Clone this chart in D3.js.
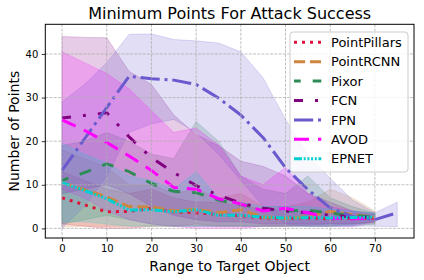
<!DOCTYPE html>
<html><head><meta charset="utf-8">
<script src="https://cdn.jsdelivr.net/npm/d3@7"></script>
<style>body{margin:0;background:#fff;}svg{display:block;font-family:"DejaVu Sans",sans-serif;}</style>
</head><body><svg id="c" width="424" height="280"></svg>
<script>
const seriesNames = ["PointPillars","PointRCNN","Pixor","FCN","FPN","AVOD","EPNET"];
const ranges = [0,5,10,15,20,25,30,35,40,45,50,55,60,65,70];
const fpnRanges = [0,5,10,15,20,25,30,35,40,45,50,55,60,65,70,75];
const xTicks = [0,10,20,30,40,50,60,70];
const yTicks = [0,10,20,30,40];

const pointPillars   = [7.0,5.4,3.8,3.9,4.6,3.8,3.6,3.2,2.9,2.4,2.3,2.4,2.2,2.4,2.3];
const pointPillarsHi = [13,11,9,8,9,7,6,6,5,4.5,4,4,3.5,3.5,3.2];
const pointPillarsLo = [1,0.5,0,0,0.5,0.5,1,0.5,0.5,0.5,0.5,0.8,1,1,1.4];

const pointRCNN   = [10.5,8.9,7.2,5.0,4.9,4.0,4.4,3.6,4.3,2.6,2.3,2.7,3.9,3.2,2.5];
const pointRCNNHi = [18,16,14,10,10,8,9,7,8,5,5,6,9,7,4];
const pointRCNNLo = [0.3,0.5,0.5,0.5,0.5,0.5,0.5,0.5,0.5,0.5,0.5,0.5,0.5,1,1];

const pixor   = [11.0,12.8,14.8,13.0,10.3,8.5,8.2,6.5,5.5,4.6,4.0,4.2,3.5,3.0,2.6];
const pixorHi = [19,20,22,20,17,16,24.5,20,12,9,8,12,7,5,3.5];
const pixorLo = [1,2,3,2,1,0.5,0.5,0.5,0.5,0.5,0.5,0.5,0.5,0.5,1];

const fcn   = [25.3,25.9,26.5,21.0,16.2,12.8,9.8,7.6,5.8,4.6,4.0,3.6,3.0,2.6,2.5];
const fcnHi = [44,43.8,43.7,36,33,26,21.5,19,15.4,14.2,12,8,6,4,3.5];
const fcnLo = [8,9,10,8,5,3,2,1.5,1.5,1,1,1,1,1,1.5];

const fpn   = [13.3,20.5,27.7,34.9,34.3,34.0,33.0,29.9,26.0,20.8,13.9,8.9,4.7,2.7,2.0,3.6];
const fpnHi = [29,33,38,44.5,44.6,43.3,43,42.5,40.5,34.5,25,17,11.5,6.5,3.6,6];
const fpnLo = [0,5,12,22,24,25,22,17,11,5,1,0.5,0.5,0.5,0.5,0.4];

const avod   = [24.9,22.5,19.7,16.6,13.3,9.4,9.0,6.8,5.6,4.0,4.6,3.6,2.3,2.2,2.3];
const avodHi = [40.5,38,35.5,32,27,22,23,19.2,12,10,14,8,5,4,3];
const avodLo = [9,7,4,2,1,0.5,0,0,0,0.5,0.5,0.5,0.5,0.5,1.5];

const epnet   = [10.5,8.7,6.8,4.2,4.3,3.8,4.3,3.0,3.0,2.6,2.4,2.5,2.4,2.5,2.6];
const epnetHi = [19.5,17,15,12,11,9,13,7,6,5,5,5,4.5,4,3.5];
const epnetLo = [1.5,1.5,1,0.5,0.5,0.5,0.5,0.5,0.5,0.5,0.5,0.5,0.5,0.8,1.5];

const series = [
  {name:seriesNames[0], x:ranges, y:pointPillars, hi:pointPillarsHi, lo:pointPillarsLo, color:"#DC143C", dash:"3 5", off:0},
  {name:seriesNames[1], x:ranges, y:pointRCNN, hi:pointRCNNHi, lo:pointRCNNLo, color:"#CD853F", dash:"11.1 4.8", off:0},
  {name:seriesNames[2], x:ranges, y:pixor, hi:pixorHi, lo:pixorLo, color:"#2E8B57", dash:"12 12", off:5.3},
  {name:seriesNames[3], x:ranges, y:fcn, hi:fcnHi, lo:fcnLo, color:"#800080", dash:"12 12 3 12", off:3},
  {name:seriesNames[4], x:fpnRanges, y:fpn, hi:fpnHi, lo:fpnLo, color:"#6A5ACD", dash:"19.2 4.8 3 4.8", off:0},
  {name:seriesNames[5], x:ranges, y:avod, hi:avodHi, lo:avodLo, color:"#FF00FF", dash:"15 9", off:0},
  {name:seriesNames[6], x:ranges, y:epnet, hi:epnetHi, lo:epnetLo, color:"#00CED1", dash:"8 1.7 2 1.7 2 1.7 2 1.7 2 1.7", off:0}
];

const L = 45.3, R = 414, T = 24.3, B = 238;
const svg = d3.select("#c");
svg.append("rect").attr("width",424).attr("height",280).attr("fill","#fff");
const x = d3.scaleLinear().domain([-3.75,78.75]).range([L,R]);
const y = d3.scaleLinear().domain([-2.2,46.8]).range([B,T]);

svg.append("clipPath").attr("id","clp").append("rect")
  .attr("x",L).attr("y",T).attr("width",R-L).attr("height",B-T);
const plot = svg.append("g").attr("clip-path","url(#clp)");

// bands
series.forEach(s=>{
  const pts = s.x.map((v,i)=>({x:v,lo:s.lo[i],hi:s.hi[i]}));
  plot.append("path").datum(pts)
    .attr("d", d3.area().x(d=>x(d.x)).y0(d=>y(d.lo)).y1(d=>y(d.hi)))
    .attr("fill", s.color).attr("fill-opacity",0.2)
    .attr("stroke", s.color).attr("stroke-opacity",0.2).attr("stroke-width",1);
});

// grid
const grid = svg.append("g");
xTicks.forEach(t=>grid.append("line").attr("x1",x(t)).attr("x2",x(t)).attr("y1",T).attr("y2",B)
  .attr("stroke","#b0b0b0").attr("stroke-width",0.8).attr("stroke-dasharray","2.96 1.28"));
yTicks.forEach(t=>grid.append("line").attr("y1",y(t)).attr("y2",y(t)).attr("x1",L).attr("x2",R)
  .attr("stroke","#b0b0b0").attr("stroke-width",0.8).attr("stroke-dasharray","2.96 1.28"));

// lines
series.forEach(s=>{
  const pts = s.x.map((v,i)=>({x:v,y:s.y[i]}));
  plot.append("path").datum(pts)
    .attr("d", d3.line().x(d=>x(d.x)).y(d=>y(d.y)))
    .attr("fill","none").attr("stroke",s.color).attr("stroke-width",3)
    .attr("stroke-dasharray",s.dash).attr("stroke-dashoffset",s.off)
    .attr("stroke-linejoin","round");
});

// axes
const xa = svg.append("g").attr("transform",`translate(0,${B})`)
  .call(d3.axisBottom(x).tickValues(xTicks).tickSize(3.5).tickPadding(3.5).tickFormat(d3.format("d")));
const ya = svg.append("g").attr("transform",`translate(${L},0)`)
  .call(d3.axisLeft(y).tickValues(yTicks).tickSize(3.5).tickPadding(3.5).tickFormat(d3.format("d")));
[xa,ya].forEach(a=>{
  a.select(".domain").remove();
  a.selectAll(".tick line").attr("stroke","#000").attr("stroke-width",0.8);
  a.selectAll(".tick text").attr("fill","#000").style("font-size","10px").style("font-family","DejaVu Sans");
});
svg.append("rect").attr("x",L).attr("y",T).attr("width",R-L).attr("height",B-T)
  .attr("fill","none").attr("stroke","#000").attr("stroke-width",1);

// titles
svg.append("text").attr("x",(L+R)/2).attr("y",19).attr("text-anchor","middle")
  .style("font-size","16px").text("Minimum Points For Attack Success");
svg.append("text").attr("x",(L+R)/2).attr("y",271).attr("text-anchor","middle")
  .style("font-size","14px").text("Range to Target Object");
svg.append("text").attr("transform",`translate(18.5,${(T+B)/2}) rotate(-90)`).attr("text-anchor","middle")
  .style("font-size","14px").text("Number of Points");

// legend
const lg = svg.append("g");
lg.append("rect").attr("x",290).attr("y",32).attr("width",118).attr("height",140).attr("rx",3)
  .attr("fill","#fff").attr("fill-opacity",0.8).attr("stroke","#cccccc").attr("stroke-width",1);
series.forEach((s,i)=>{
  const cy = 42.3 + i*19.4;
  lg.append("line").attr("x1",294).attr("x2",321.3).attr("y1",cy).attr("y2",cy)
    .attr("stroke",s.color).attr("stroke-width",3).attr("stroke-dasharray",s.dash).attr("stroke-dashoffset",s.off);
  lg.append("text").attr("x",331).attr("y",cy+4.7).style("font-size","13px").text(s.name);
});
</script></body></html>
